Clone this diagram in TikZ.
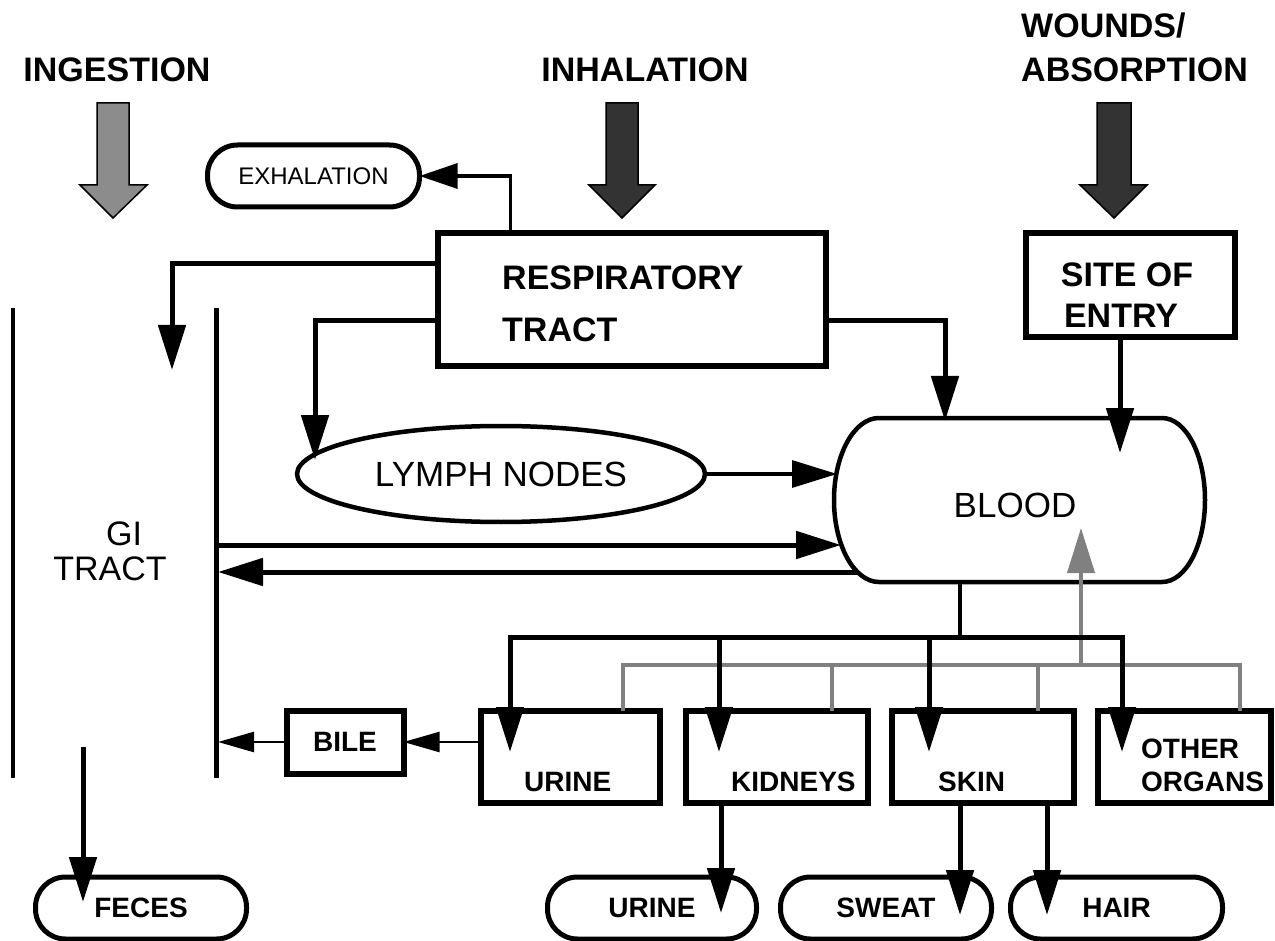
\documentclass[tikz,border=0pt]{standalone}
\usepackage{fontspec}
\setmainfont{Liberation Sans}
\usetikzlibrary{arrows.meta,shapes.geometric}
\begin{document}
\begin{tikzpicture}[x=1pt,y=-1pt,
  boxs/.style={draw,line width=6pt,inner sep=0pt,outer sep=0pt},
  pill/.style={draw,line width=5pt,rounded corners=30pt,inner sep=0pt,outer sep=0pt,minimum height=62pt},
  tb/.style={font=\fontsize{34}{40}\selectfont\bfseries,inner sep=0pt},
  tr/.style={font=\fontsize{35}{40}\selectfont,inner sep=0pt},
  sb/.style={font=\fontsize{28}{32}\selectfont\bfseries,inner sep=0pt},
  thk/.style={line width=5pt},
  thn/.style={line width=3.2pt},
  arr/.style={-{Triangle[length=45pt,width=27pt]}},
  sarr/.style={-{Triangle[length=36pt,width=20pt]}},
  gry/.style={draw=gray,line width=4pt},
  blk/.style={line width=1.5pt,line join=miter}
]
\fill[white] (0,0) rectangle (1275,941);
\useasboundingbox (0,0) rectangle (1275,941);

% titles
\node[tb,anchor=base] (ingt) at (117,82) {INGESTION};
\node[tb,anchor=base] (inht) at (645,82) {INHALATION};
\node[tb,anchor=base west] (wt1) at (1021,38) {WOUNDS/};
\node[tb,anchor=base west] (wt2) at (1021,82) {ABSORPTION};

% block arrows
\draw[blk,fill=black!45] (97,103) -- (129,103) -- (129,185) -- (147,185) -- (113,218) -- (80,185) -- (97,185) -- cycle;
\draw[blk,fill=black!80] (606,103) -- (638,103) -- (638,185) -- (655,185) -- (622,218) -- (589,185) -- (606,185) -- cycle;
\draw[blk,fill=black!80] (1097,103) -- (1131,103) -- (1131,185) -- (1147,185) -- (1114,218) -- (1080,185) -- (1097,185) -- cycle;

% nodes
\node[pill,minimum width=212pt] (exh) at (313.5,176) {\fontsize{24}{28}\selectfont EXHALATION};
\node[boxs,minimum width=388pt,minimum height=133pt] (resp) at (631.5,300) {};
\node[tb,anchor=base west] (respt1) at (502,290) {RESPIRATORY};
\node[tb,anchor=base west] (respt2) at (502,342) {TRACT};
\node[boxs,minimum width=209pt,minimum height=104pt] (site) at (1130,285.5) {};
\node[tb,anchor=base] (sitet1) at (1127,287) {SITE OF};
\node[tb,anchor=base] (sitet2) at (1121,328) {ENTRY};
\node[ellipse,draw,line width=4.5pt,inner sep=0pt,outer sep=0pt,minimum width=408pt,minimum height=96pt,tr] (lymph) at (501,474) {LYMPH NODES};

% blood
\draw[line width=4.5pt] (879,418) -- (1162,418) arc[start angle=90,end angle=-90,x radius=43pt,y radius=82pt] -- (879,582) arc[start angle=270,end angle=90,x radius=45pt,y radius=82pt] -- cycle;
\node[tr,anchor=base] (blood) at (1015,517) {BLOOD};

% GI tract
\coordinate (gl1) at (13,308);
\coordinate (gl2) at (13,778);
\coordinate (gr1) at (216,308);
\coordinate (gr2) at (216,778);
\draw[thn] (gl1) -- (gl2);
\draw[thk] (gr1) -- (gr2);
\node[tr,anchor=base,font=\fontsize{34}{40}\selectfont] (git1) at (124,545) {GI};
\node[tr,anchor=base,font=\fontsize{34}{40}\selectfont] (git2) at (110,580) {TRACT};

% organ boxes
\node[boxs,minimum width=179pt,minimum height=92pt] (urinebox) at (570,756.5) {};
\node[boxs,minimum width=182pt,minimum height=92pt] (kid) at (776.5,756.5) {};
\node[boxs,minimum width=182pt,minimum height=92pt] (skin) at (982.5,756.5) {};
\node[boxs,minimum width=173pt,minimum height=92pt] (other) at (1184,756.5) {};
\node[sb,anchor=base west] (urinet) at (524,791) {URINE};
\node[sb,anchor=base west] (kidt) at (731,791) {KIDNEYS};
\node[sb,anchor=base west] (skint) at (938,791) {SKIN};
\node[sb,anchor=base west] (othert1) at (1141,758) {OTHER};
\node[sb,anchor=base west] (othert2) at (1141,791) {ORGANS};
\node[boxs,minimum width=117pt,minimum height=63pt,sb] (bile) at (345,742) {BILE};

% excretion pills
\node[pill,minimum width=211pt,sb] (feces) at (141,908) {FECES};
\node[pill,minimum width=209pt,sb] (urinep) at (652,908) {URINE};
\node[pill,minimum width=211pt,sb] (sweat) at (886,908) {SWEAT};
\node[pill,minimum width=212pt,sb] (hair) at (1116.5,908) {HAIR};

% coordinates for connector ends
\coordinate (giA) at (172,370);
\coordinate (lymA) at (315,460);
\coordinate (bA) at (945,421);
\coordinate (bB) at (1120,453);
\coordinate (bC) at (837,474);
\coordinate (giB) at (216,545);
\coordinate (bD) at (841,545);
\coordinate (bE) at (857,572);
\coordinate (giC) at (218,572);
\coordinate (bF) at (960,582);
\coordinate (bus) at (960,637);
\coordinate (t1) at (510,752);
\coordinate (t2) at (719,752);
\coordinate (t3) at (929,752);
\coordinate (t4) at (1122,752);
\coordinate (g1) at (623,665);
\coordinate (g2) at (832,665);
\coordinate (g3) at (1038,665);
\coordinate (g4) at (1240,665);
\coordinate (g5) at (1081,665);
\coordinate (bG) at (1081,528);
\coordinate (giD) at (218,742);
\coordinate (giE) at (83,747);
\coordinate (fA) at (83,902);
\coordinate (uA) at (721,913);
\coordinate (sA) at (960,915);
\coordinate (hA) at (1047,915);

% connectors
\draw[thn,-{Triangle[length=38pt,width=25pt]}] ([xshift=73pt]resp.north west) |- (exh.east);
\draw[thk,arr] ([yshift=-30pt]resp.north west) -| (giA);
\draw[thk,arr] ([yshift=-87pt]resp.north west) -| (lymA);
\draw[thk,arr] ([yshift=-87pt]resp.north east) -| (bA);
\draw[thk,arr] (site.south -| bB) -- (bB);
\draw[thn,arr] (lymph.east) -- (bC);
\draw[thk,arr] (giB) -- (bD);
\draw[thk,arr] (bE) -- (giC);

% gray return lines
\draw[gry] (g1 |- urinebox.north) -- (g1) -- (g4) -- (g4 |- other.north);
\draw[gry] (g2 |- kid.north) -- (g2);
\draw[gry] (g3 |- skin.north) -- (g3);
\draw[gry,arr] (g5) -- (bG);

% blood distribution
\draw[thn] (bF) -- (bus);
\draw[thk,arr] (bus) -| (t1);
\draw[thk,arr] (bus) -| (t2);
\draw[thk,arr] (bus) -| (t3);
\draw[thk,arr] (bus) -| (t4);

\draw[line width=2.5pt,sarr] (bile.east -| urinebox.west) -- (bile.east);
\draw[line width=2.5pt,sarr] (bile.west) -- (giD);
\draw[thk,arr] (giE) -- (fA);
\draw[thk,arr] (kid.south -| uA) -- (uA);
\draw[thk,arr] (skin.south -| sA) -- (sA);
\draw[thk,arr] (skin.south -| hA) -- (hA);
\end{tikzpicture}
\end{document}
